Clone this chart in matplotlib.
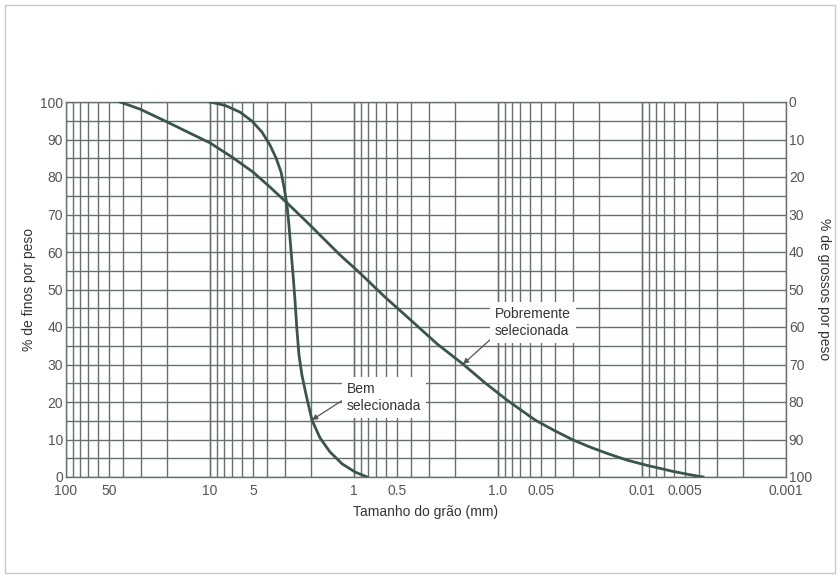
import matplotlib
matplotlib.use("Agg")
import matplotlib.pyplot as plt
from matplotlib.patches import Rectangle

plt.rcParams['font.family'] = ['Liberation Sans', 'DejaVu Sans']

# Grain size curves: diameter (mm) vs % finer by weight
poor_size = [42.2, 30.6, 19.9, 13.8, 10, 7.03, 5.02, 3.83, 2.92, 2.19, 1.64,
             1.25, 0.91, 0.61, 0.389, 0.265, 0.175, 0.123, 0.0865, 0.0553,
             0.0402, 0.0302, 0.0230, 0.0175, 0.0127, 0.00923, 0.0061,
             0.00464, 0.00377]
poor_pct = [100, 98.1, 94.7, 91.7, 89.1, 85.3, 81.3, 77.3, 73.1, 68.5, 63.7,
            59.2, 54.4, 48, 41.3, 35.5, 30.1, 25.1, 20.5, 15.2,
            12.3, 9.9, 8.0, 6.3, 4.5, 3.1, 1.5,
            0.6, 0]

well_size = [10, 7.87, 6.19, 5.11, 4.36, 3.83, 3.48, 3.21, 3.06, 2.92, 2.83,
             2.74, 2.65, 2.57, 2.49, 2.41, 2.30, 2.15, 1.96, 1.72, 1.47, 1.21,
             0.98, 0.81]
well_pct = [100, 99.1, 97.3, 94.9, 92, 88.5, 85.1, 81.3, 77.3, 72.5, 67.2,
            60.5, 53.9, 47.2, 39.2, 32.5, 27.2, 21.9, 15.2, 10.4, 6.7, 3.5,
            1.3, 0]

x_ticks = [100, 50, 10, 5, 1, 0.5, 0.1, 0.05, 0.01, 0.005, 0.001]
x_tick_labels = ["100", "50", "10", "5", "1", "0.5", "1.0", "0.05", "0.01",
                 "0.005", "0.001"]
y_ticks = list(range(0, 101, 10))

grid_color = '#67716c'
curve_color = '#3a5549'
label_color = '#555555'

fig = plt.figure(figsize=(8.4, 5.78), dpi=100)
ax = fig.add_axes([66 / 840, 1 - 477 / 578, 720 / 840, 375 / 578])

ax.set_xscale('log')
ax.set_xlim(100, 0.001)
ax.set_ylim(0, 100)

# log grid at every 1..9 multiple, horizontal grid every 5 %
for dec in [0.001, 0.01, 0.1, 1, 10]:
    for m in range(1, 11):
        ax.axvline(dec * m, color=grid_color, lw=1.0, zorder=1)
for p in range(0, 101, 5):
    ax.axhline(p, color=grid_color, lw=1.0, zorder=1)

ax.plot(poor_size, poor_pct, color=curve_color, lw=2.0, zorder=3,
        solid_joinstyle='round')
ax.plot(well_size, well_pct, color=curve_color, lw=2.0, zorder=3,
        solid_joinstyle='round')

ax.set_xticks(x_ticks)
ax.set_xticklabels(x_tick_labels)
ax.xaxis.set_minor_locator(matplotlib.ticker.NullLocator())
ax.set_yticks(y_ticks)
ax.tick_params(axis='both', length=0, labelsize=10, labelcolor=label_color)
ax.tick_params(axis='x', pad=5)
ax.tick_params(axis='y', pad=2)
for s in ax.spines.values():
    s.set_color(grid_color)
    s.set_linewidth(1.0)

ax.set_xlabel("Tamanho do grão (mm)", fontsize=10, color='#333333', labelpad=5)
ax.set_ylabel("% de finos por peso", fontsize=10, color='#333333', labelpad=3)

ax2 = ax.twinx()
ax2.set_ylim(100, 0)
ax2.set_yticks(y_ticks)
ax2.tick_params(axis='y', length=0, labelsize=10, labelcolor=label_color, pad=2)
for s in ax2.spines.values():
    s.set_visible(False)
ax2.set_ylabel("% de grossos por peso", fontsize=10, color='#333333',
               rotation=-90, va='bottom', labelpad=4)

box = dict(boxstyle='square,pad=0.35', fc='white', ec='none')
arrow = dict(arrowstyle='-|>', color='#555555', lw=0.9, mutation_scale=8,
             shrinkA=0, shrinkB=0)

ax.annotate("Bem\nselecionada", xy=(well_size[18], well_pct[18]),
            xytext=(0.39, 0.212), textcoords='axes fraction',
            ha='left', va='center', fontsize=10, color='#333333',
            linespacing=1.35, bbox=box,
            arrowprops=dict(arrow, relpos=(0, 0.5)), zorder=5)
ax.annotate("Pobremente\nselecionada", xy=(poor_size[16], poor_pct[16]),
            xytext=(0.596, 0.412), textcoords='axes fraction',
            ha='left', va='center', fontsize=10, color='#333333',
            linespacing=1.35, bbox=box,
            arrowprops=dict(arrow, relpos=(0, 0.1)), zorder=5)

# faint page border of the scan
fig.patches.append(Rectangle((5 / 840, 5 / 578), 830 / 840, 568 / 578,
                             transform=fig.transFigure, fill=False,
                             ec='#c8c8c8', lw=1.0))

fig.savefig("out.png", dpi=100)
